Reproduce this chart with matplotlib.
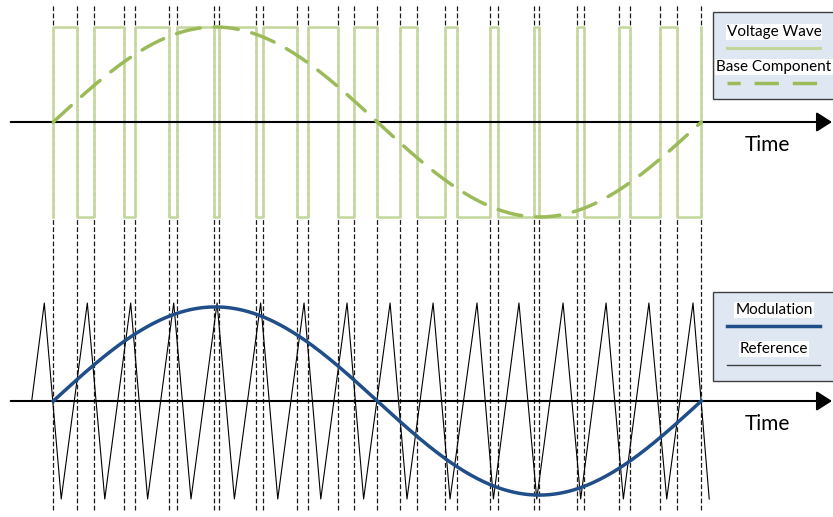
import matplotlib
matplotlib.use('Agg')
import matplotlib.pyplot as plt
from matplotlib.patches import Rectangle
from matplotlib.lines import Line2D
import numpy as np

plt.rcParams['font.family'] = ['Lato', 'DejaVu Sans']

# switching instants (degrees of the fundamental)
switch_deg = [0.0, 13.3, 22.4, 39.1, 45.6, 64.4, 68.6, 89.1, 92.2, 112.8, 116.7,
              135.6, 141.7, 158.0, 167.1, 180.0, 192.6, 201.9, 217.8, 224.3,
              242.6, 247.2, 267.2, 270.0, 291.1, 295.0, 314.3, 320.4, 337.1,
              346.5, 360.0]
# triangular carrier vertices
carrier_start = -12.0
carrier_peaks = [-5.0, 18.9, 43.0, 66.9, 91.0, 115.2, 139.3, 163.2, 187.1, 211.0,
                 235.4, 258.7, 283.2, 307.1, 330.9, 355.4]
carrier_troughs = [4.4, 28.6, 52.4, 76.5, 100.6, 124.7, 148.6, 172.4, 196.5, 220.4,
                   244.5, 268.6, 293.0, 316.7, 340.8, 364.4]
base_amp = 1.0
mod_amp = 0.96
labels_top = ['Voltage Wave', 'Base Component']
labels_bot = ['Modulation', 'Reference']

W, H = 833, 517
X0, X1 = 53.3, 701.3   # pixel span of one fundamental period
GREEN_LIGHT = '#C3D69B'
GREEN = '#9BBB59'
BLUE = '#1F4E89'


def deg_range():
    k = 360.0 / (X1 - X0)
    return (0 - X0) * k, (W - X0) * k, k


def make_axes(fig, ptop, pbot, pzero, unit):
    ax = fig.add_axes([0, 1 - pbot / H, 1, (pbot - ptop) / H])
    lo, hi, k = deg_range()
    ax.set_xlim(lo, hi)
    ax.set_ylim(-(pbot - pzero) / unit, (pzero - ptop) / unit)
    ax.axis('off')
    return ax


def time_axis(ax, k):
    ax.annotate('', xy=((832 - X0) * k, 0), xytext=((10.7 - X0) * k, 0),
                arrowprops=dict(arrowstyle='-|>,head_length=0.47,head_width=0.3',
                                lw=1.5, color='k', mutation_scale=20, shrinkA=0, shrinkB=0),
                zorder=4)


def fig_px(x, y):
    return x / W, 1 - y / H


def legend_box(fig, ytop, ybot, texts, styles, first, step):
    x, y = fig_px(713, ybot)
    fig.add_artist(Rectangle((x, y), (845 - 713) / W, (ybot - ytop) / H,
                             transform=fig.transFigure, facecolor='#DFE7F2',
                             edgecolor='#3F3F3F', lw=1.0))
    for i, (txt, st) in enumerate(zip(texts, styles)):
        ty = ytop + first + i * step
        ly = ty + 15.5
        fig.text(*fig_px(774, ty), txt, ha='center', va='center', fontsize=11,
                 bbox=dict(facecolor='white', edgecolor='none', pad=0.8))
        xa, ya = fig_px(727, ly)
        xb, _ = fig_px(820, ly)
        fig.add_artist(Line2D([xa, xb], [ya, ya], transform=fig.transFigure, **st))


fig = plt.figure(figsize=(W / 100, H / 100), dpi=100)
lo, hi, k = deg_range()

ax_top = make_axes(fig, 0, 260, 122, 95)
ax_bot = make_axes(fig, 260, H, 401, 98)

dash_kw = dict(color='#1A1A1A', lw=0.9, dashes=(3.8, 1.9), zorder=1)
for s in switch_deg:
    ax_top.axvline(s, ymin=0, ymax=1 - 4 / 260, **dash_kw)
    ax_bot.axvline(s, ymin=7 / 257, ymax=1, **dash_kw)

# voltage wave
sx = np.repeat(switch_deg, 2)
sy = []
for i in range(len(switch_deg)):
    before = -1 if i % 2 == 0 else 1
    sy += [before, -before]
ax_top.plot(sx, sy, color=GREEN_LIGHT, lw=1.8, zorder=2)

t = np.linspace(0, 360, 400)
ax_top.plot(t, base_amp * np.sin(np.radians(t)), color=GREEN, lw=2.5,
            dashes=(7, 4), solid_capstyle='round', dash_capstyle='round', zorder=5)
time_axis(ax_top, k)
ax_top.text((767 - X0) * k, -(145 - 122) / 95, 'Time', ha='center', va='center', fontsize=15)

# carrier and modulation
cx = [carrier_start]
cy = [0]
for p, q in zip(carrier_peaks, carrier_troughs):
    cx += [p, q]
    cy += [1, -1]
ax_bot.plot(cx, cy, color='k', lw=0.8, zorder=2)
ax_bot.plot(t, mod_amp * np.sin(np.radians(t)), color=BLUE, lw=2.5, zorder=5)
time_axis(ax_bot, k)
ax_bot.text((767 - X0) * k, -(424 - 401) / 98, 'Time', ha='center', va='center', fontsize=15)

legend_box(fig, 12, 99, labels_top,
           [dict(color=GREEN_LIGHT, lw=2.2),
            dict(color=GREEN, lw=2.5, ls=(3.2, (7, 4)))], 20, 35)
legend_box(fig, 292, 381, labels_bot,
           [dict(color=BLUE, lw=2.5),
            dict(color='#404040', lw=1.0)], 18, 39)

plt.savefig('out.png', dpi=100)
